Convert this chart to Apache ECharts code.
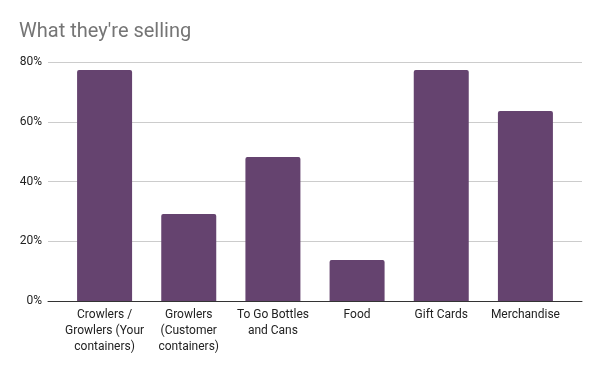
<!DOCTYPE html>
<html><head><meta charset="utf-8">
<script src="https://cdn.jsdelivr.net/npm/echarts@6/dist/echarts.min.js"></script>
<style>html,body{margin:0;padding:0;background:#fff}#c{width:600px;height:371px}</style>
</head><body><div id="c"></div>
<script>
const categories = ["Crowlers /\nGrowlers (Your\ncontainers)", "Growlers\n(Customer\ncontainers)", "To Go Bottles\nand Cans", "Food", "Gift Cards", "Merchandise"];
const values = [77.3, 29.1, 48.2, 13.7, 77.3, 63.6];
const yTicks = [0, 20, 40, 60, 80];

const chart = echarts.init(document.getElementById('c'), null, {renderer: 'canvas'});
const font = 'Roboto, "Noto Sans", sans-serif';
chart.setOption({
  animation: false,
  textStyle: {fontFamily: font},
  title: {
    text: "What they're selling", left: 19, top: 22, padding: 0,
    textStyle: {fontFamily: font, fontSize: 20, fontWeight: 'normal', color: '#757575'}
  },
  grid: [
    {left: 48, right: 18, top: 62, bottom: 70, containLabel: false},
    {left: 62.5, right: 32.5, top: 62, bottom: 70, containLabel: false}
  ],
  xAxis: [
    {gridIndex: 0, type: 'value', min: 0, max: 1, axisLabel: {show: false}, axisTick: {show: false},
     splitLine: {show: false}, axisLine: {show: true, lineStyle: {color: '#333', width: 1}}},
    {gridIndex: 1, type: 'category', data: categories, axisLine: {show: false}, axisTick: {show: false},
     axisLabel: {interval: 0, color: '#222', fontSize: 12, lineHeight: 16, margin: 6, fontFamily: font}}
  ],
  yAxis: [
    {gridIndex: 0, type: 'value', min: yTicks[0], max: yTicks[yTicks.length-1], interval: 20,
     axisLine: {show: false}, axisTick: {show: false},
     axisLabel: {formatter: '{value}%', color: '#222', fontSize: 12, margin: 6, fontFamily: font},
     splitLine: {show: true, lineStyle: {color: '#cccccc', width: 1}}},
    {gridIndex: 1, type: 'value', min: yTicks[0], max: yTicks[yTicks.length-1], interval: 20,
     show: false, splitLine: {show: false}}
  ],
  series: [{
    type: 'bar', xAxisIndex: 1, yAxisIndex: 1, data: values, barWidth: 55,
    itemStyle: {color: '#65436f', borderRadius: [2, 2, 0, 0]}
  }]
});
</script></body></html>
